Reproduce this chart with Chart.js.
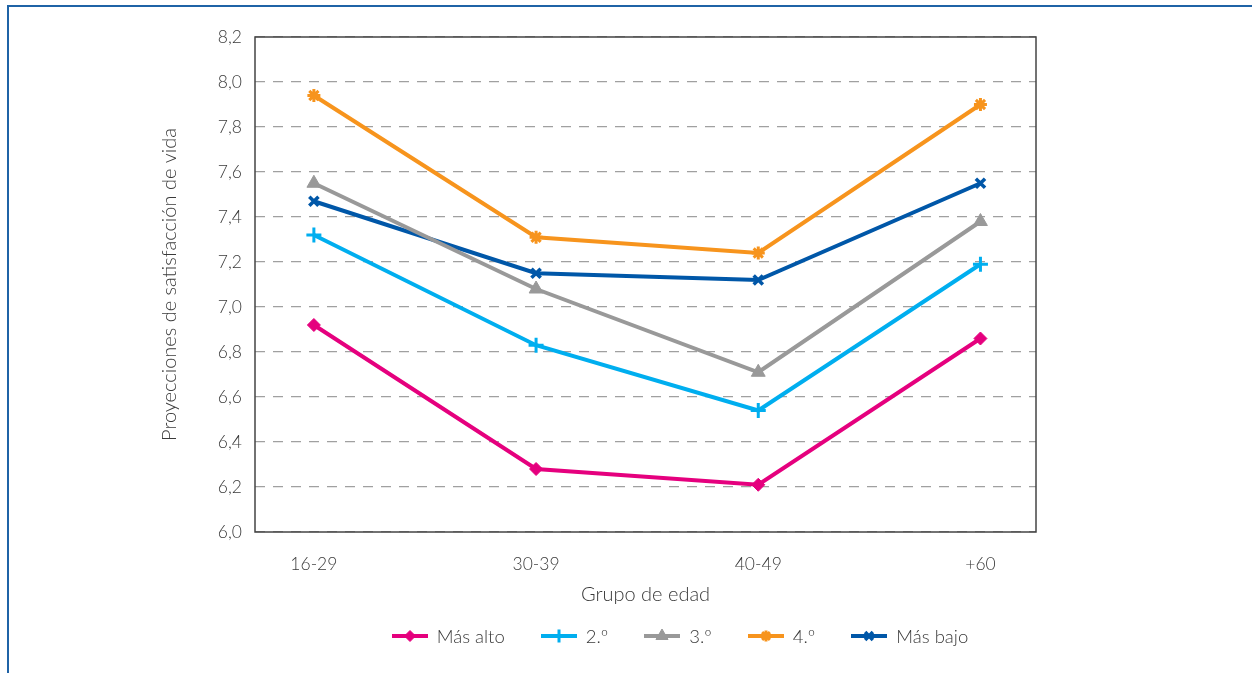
<!DOCTYPE html>
<html lang="es">
<head>
    <meta charset="UTF-8">
    <title>Proyecciones de satisfacción de vida</title>
    <script src="https://cdn.jsdelivr.net/npm/chart.js@4.4.1/dist/chart.umd.min.js"></script>
    <style>
        html, body { margin: 0; padding: 0; background: #fff; overflow: hidden; }
        #frame {
            position: absolute; left: 7px; top: 5px; width: 1300px; height: 700px;
            border-top: 2px solid #1f63a6; border-left: 2px solid #1f63a6;
        }
        #wrap { position: absolute; left: 0; top: 0; width: 1252px; height: 673px; }
        #legend {
            position: absolute; left: 0; top: 624px; width: 1360px; height: 24px;
            display: flex; justify-content: center; align-items: center; gap: 36px;
            font-family: Lato, "Open Sans", sans-serif; font-weight: 300; font-size: 18.5px;
            color: #3a3a3a;
        }
        #legend .item { display: flex; align-items: center; white-space: nowrap; }
        #legend canvas { margin-right: 9px; }
    </style>
</head>
<body>
    <div id="frame"></div>
    <div id="wrap"><canvas id="myChart"></canvas></div>
    <div id="legend"></div>

<script>
    // grupos de edad
    const ageGroups = ['16-29', '30-39', '40-49', '+60'];

    const masAlto = [6.92, 6.28, 6.21, 6.86];
    const segundo = [7.32, 6.83, 6.54, 7.19];
    const tercero = [7.55, 7.08, 6.71, 7.38];
    const cuarto = [7.94, 7.31, 7.24, 7.90];
    const masBajo = [7.47, 7.15, 7.12, 7.55];

    const seriesNames = ['Más alto', '2.º', '3.º', '4.º', 'Más bajo'];
    const yTicks = [6.0, 6.2, 6.4, 6.6, 6.8, 7.0, 7.2, 7.4, 7.6, 7.8, 8.0, 8.2];

    const FONT = 'Lato, "Open Sans", sans-serif';
    const TXT = '#3a3a3a';

    function toPoints(arr) { return arr.map((v, i) => ({ x: i, y: v })) }

    function mk(label, values, color, style, radius, bw) {
        return {
            label: label,
            data: toPoints(values),
            borderColor: color,
            backgroundColor: color,
            borderWidth: 4,
            pointStyle: style,
            pointRadius: radius,
            pointHoverRadius: radius,
            pointBorderWidth: bw,
            pointBackgroundColor: color,
            pointBorderColor: color,
            tension: 0
        }
    }

    const datasets = [
        mk(seriesNames[0], masAlto, '#e5007e', 'rectRot', 6.5, 1),
        mk(seriesNames[1], segundo, '#00aeef', 'cross', 7.5, 3),
        mk(seriesNames[2], tercero, '#999999', 'triangle', 8, 1),
        mk(seriesNames[3], cuarto, '#f7941d', 'star', 6.5, 3),
        mk(seriesNames[4], masBajo, '#0057a8', 'crossRot', 6.5, 3.5)
    ];

    // icono de leyenda: línea + marcador
    function legendIcon(ds) {
        const c = document.createElement('canvas');
        c.width = 36; c.height = 16;
        const ctx = c.getContext('2d');
        ctx.strokeStyle = ds.borderColor;
        ctx.lineWidth = 4;
        ctx.beginPath(); ctx.moveTo(0, 8); ctx.lineTo(36, 8); ctx.stroke();
        ctx.fillStyle = ds.borderColor;
        ctx.lineWidth = ds.pointBorderWidth;
        Chart.helpers.drawPoint(ctx, {
            pointStyle: ds.pointStyle, radius: ds.pointRadius - 1, rotation: 0,
            borderWidth: ds.pointBorderWidth
        }, 18, 8);
        return c;
    }

    function buildLegend() {
        const box = document.getElementById('legend');
        datasets.forEach(ds => {
            const it = document.createElement('div');
            it.className = 'item';
            it.appendChild(legendIcon(ds));
            const s = document.createElement('span');
            s.textContent = ds.label;
            it.appendChild(s);
            box.appendChild(it);
        })
    }

    const frameBox = {
        id: 'frameBox',
        afterDraw(chart) {
            const a = chart.chartArea, ctx = chart.ctx;
            ctx.save();
            ctx.strokeStyle = '#444';
            ctx.lineWidth = 1.5;
            ctx.strokeRect(a.left, a.top, a.right - a.left, a.bottom - a.top);
            ctx.restore();
        }
    };

    Chart.defaults.font.family = FONT;
    Chart.defaults.font.weight = 300;
    Chart.defaults.color = TXT;

    new Chart('myChart', {
        type: 'line',
        data: { datasets },
        plugins: [frameBox],
        options: {
            responsive: true,
            maintainAspectRatio: false,
            animation: false,
            layout: { padding: { left: 156, right: 216, top: 37, bottom: 66 } },
            plugins: {
                tooltip: { enabled: false },
                legend: { display: false }
            },
            scales: {
                x: {
                    type: 'linear',
                    min: -0.265,
                    max: 3.25,
                    afterBuildTicks(scale) {
                        scale.ticks = ageGroups.map((g, i) => ({ value: i }))
                    },
                    afterFit(scale) { scale.height = 75 },
                    ticks: {
                        callback: v => ageGroups[v],
                        font: { size: 17.5, weight: 300 },
                        padding: 22,
                        maxRotation: 0
                    },
                    grid: { display: false, drawTicks: false },
                    border: { display: false },
                    title: {
                        display: true,
                        text: 'Grupo de edad',
                        font: { size: 20, weight: 300 },
                        padding: { top: 0, bottom: 0 }
                    }
                },
                y: {
                    min: 6,
                    max: 8.2,
                    afterBuildTicks(scale) {
                        scale.ticks = yTicks.map(v => ({ value: v }))
                    },
                    afterFit(scale) { scale.width = 99 },
                    ticks: {
                        callback: v => v.toFixed(1).replace('.', ','),
                        font: { size: 17.5, weight: 300 },
                        padding: 13
                    },
                    grid: {
                        color: '#a0a0a0',
                        lineWidth: 1.2,
                        drawTicks: false
                    },
                    border: { display: false, dash: [10, 8] },
                    title: {
                        display: true,
                        text: 'Proyecciones de satisfacción de vida',
                        font: { size: 20, weight: 300 },
                        padding: { top: 2, bottom: 2 }
                    }
                }
            }
        }
    });

    buildLegend();
</script>
</body>
</html>
